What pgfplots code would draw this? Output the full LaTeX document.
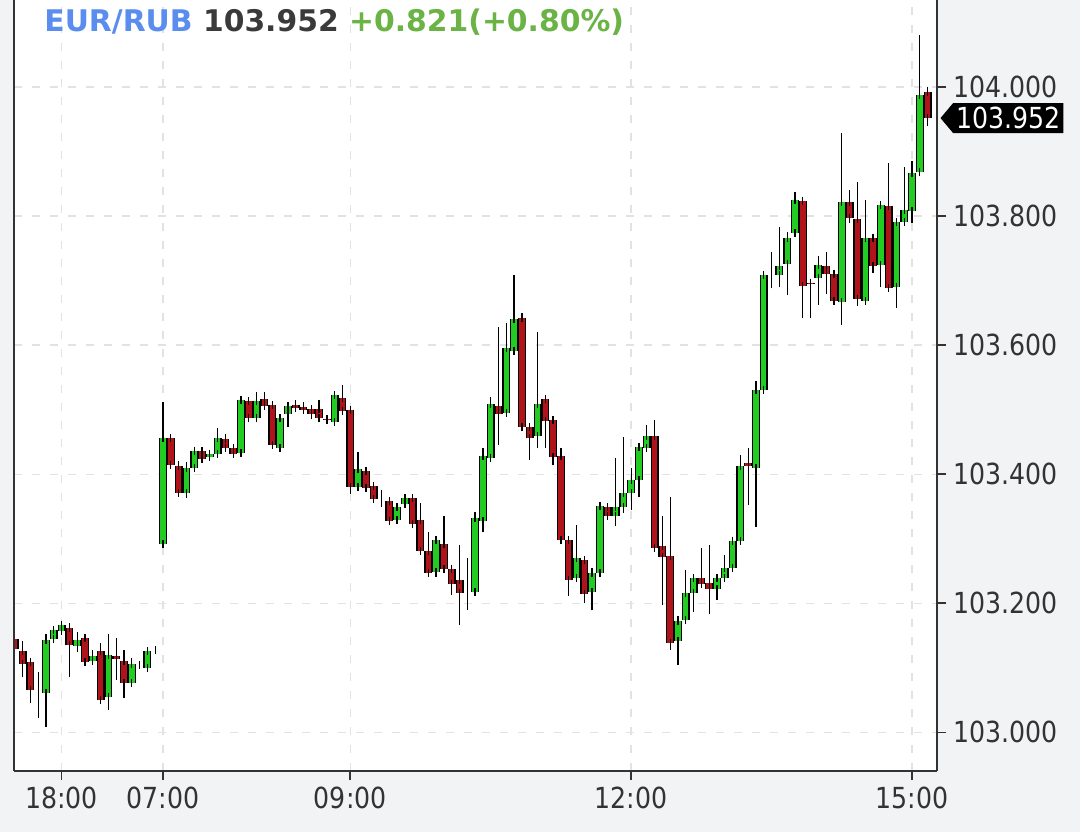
\documentclass[border=0pt]{standalone}
\usepackage{fontspec}
\setmainfont{DejaVu Sans}
\newfontfamily\tickfont[FakeStretch=0.87]{DejaVu Sans}
\usepackage{pgfplots}
\usepackage{pgfplotstable}
\pgfplotsset{compat=1.18}
\usetikzlibrary{shapes.symbols, backgrounds}

\definecolor{bg}{HTML}{F2F3F5}
\definecolor{upc}{HTML}{22CC22}
\definecolor{dnc}{HTML}{B0141A}
\definecolor{ttlblue}{HTML}{5B8DEF}
\definecolor{ttlgray}{HTML}{3A3A3A}
\definecolor{ttlgreen}{HTML}{6AB344}
\definecolor{gridc}{HTML}{E2E2E2}
\definecolor{axc}{HTML}{333333}

% 5-minute candles, x = candle index (07:00 = 0)
\pgfplotstableread{
x o h l c
-19 103.146 103.152 103.125 103.130
-18 103.127 103.141 103.085 103.107
-17 103.109 103.115 103.045 103.065
-16 103.065 103.093 103.022 103.065
-15 103.062 103.153 103.008 103.144
-14 103.144 103.160 103.140 103.158
-13 103.158 103.170 103.155 103.167
-12 103.161 103.169 103.085 103.135
-11 103.135 103.155 103.125 103.144
-10 103.146 103.146 103.109 103.109
-9 103.112 103.127 103.105 103.119
-8 103.127 103.138 103.045 103.050
-7 103.055 103.153 103.034 103.120
-6 103.120 103.146 103.081 103.114
-5 103.112 103.127 103.053 103.078
-4 103.078 103.115 103.073 103.107
-3 103.104 103.106 103.102 103.104
-2 103.101 103.127 103.101 103.127
-1 103.127 103.127 103.127 103.127
0 103.293 103.512 103.290 103.457
1 103.456 103.458 103.410 103.414
2 103.414 103.420 103.366 103.372
3 103.372 103.419 103.363 103.410
4 103.410 103.440 103.405 103.437
5 103.437 103.442 103.420 103.425
6 103.428 103.435 103.425 103.432
7 103.432 103.471 103.430 103.456
8 103.456 103.462 103.438 103.442
9 103.442 103.445 103.426 103.432
10 103.434 103.522 103.432 103.516
11 103.515 103.518 103.486 103.488
12 103.488 103.527 103.486 103.515
13 103.518 103.527 103.505 103.507
14 103.507 103.510 103.440 103.445
15 103.442 103.490 103.440 103.488
16 103.495 103.512 103.473 103.507
17 103.508 103.515 103.497 103.502
18 103.505 103.512 103.495 103.500
19 103.502 103.507 103.485 103.494
20 103.502 103.515 103.485 103.488
21 103.486 103.488 103.483 103.485
22 103.481 103.528 103.478 103.523
23 103.518 103.538 103.497 103.499
24 103.499 103.502 103.370 103.380
25 103.380 103.434 103.378 103.409
26 103.406 103.410 103.375 103.380
27 103.383 103.386 103.360 103.363
28 103.357 103.375 103.349 103.357
29 103.360 103.362 103.327 103.329
30 103.329 103.352 103.327 103.349
31 103.355 103.366 103.353 103.364
32 103.363 103.366 103.322 103.324
33 103.329 103.355 103.280 103.282
34 103.282 103.310 103.246 103.248
35 103.248 103.305 103.240 103.298
36 103.293 103.336 103.250 103.254
37 103.254 103.256 103.213 103.231
38 103.236 103.290 103.166 103.217
39 103.217 103.270 103.190 103.217
40 103.217 103.341 103.215 103.332
41 103.329 103.440 103.310 103.429
42 103.426 103.520 103.420 103.510
43 103.507 103.628 103.445 103.494
44 103.495 103.634 103.490 103.595
45 103.592 103.709 103.590 103.642
46 103.642 103.650 103.470 103.473
47 103.473 103.476 103.422 103.456
48 103.460 103.620 103.440 103.510
49 103.518 103.520 103.440 103.484
50 103.484 103.488 103.414 103.426
51 103.429 103.440 103.296 103.298
52 103.298 103.300 103.212 103.236
53 103.240 103.321 103.236 103.271
54 103.267 103.270 103.200 103.215
55 103.218 103.255 103.189 103.248
56 103.248 103.355 103.245 103.352
57 103.349 103.352 103.335 103.336
58 103.336 103.425 103.320 103.349
59 103.349 103.457 103.340 103.371
60 103.372 103.410 103.345 103.391
61 103.391 103.445 103.365 103.442
62 103.442 103.476 103.440 103.460
63 103.460 103.484 103.285 103.287
64 103.290 103.336 103.197 103.274
65 103.274 103.364 103.127 103.138
66 103.143 103.180 103.104 103.174
67 103.174 103.251 103.170 103.217
68 103.217 103.245 103.186 103.240
69 103.240 103.285 103.228 103.231
70 103.232 103.290 103.184 103.223
71 103.223 103.243 103.205 103.240
72 103.240 103.275 103.238 103.256
73 103.256 103.300 103.254 103.298
74 103.298 103.430 103.296 103.414
75 103.418 103.440 103.352 103.414
76 103.410 103.545 103.318 103.530
77 103.530 103.712 103.528 103.709
78 103.707 103.744 103.688 103.707
79 103.710 103.783 103.690 103.723
80 103.727 103.775 103.678 103.767
81 103.774 103.837 103.770 103.825
82 103.825 103.828 103.642 103.693
83 103.697 103.700 103.642 103.695
84 103.704 103.738 103.663 103.724
85 103.724 103.744 103.680 103.712
86 103.712 103.715 103.665 103.670
87 103.667 103.929 103.631 103.822
88 103.822 103.840 103.790 103.797
89 103.797 103.853 103.660 103.673
90 103.670 103.825 103.668 103.767
91 103.767 103.770 103.712 103.724
92 103.724 103.820 103.690 103.817
93 103.817 103.882 103.690 103.690
94 103.690 103.796 103.657 103.791
95 103.791 103.876 103.785 103.809
96 103.809 103.885 103.790 103.868
97 103.868 104.081 103.865 103.988
98 103.992 104.000 103.940 103.952
}\candles

\begin{document}
\begin{tikzpicture}
\begin{axis}[
  at={(0,0)}, anchor=south west,
  scale only axis, width=461.5pt, height=385.5pt,
  xmin=-19.1, xmax=99.2, ymin=102.94, ymax=104.135,
  axis background/.style={fill=white},
  axis x line*=bottom, axis y line*=right,
  axis line style={axc, line width=1pt},
  tick align=outside, major tick length=4.5pt,
  tick style={axc, line width=0.8pt},
  xtick={-13,0,24,60,96},
  xticklabels={18:00,07:00,09:00,12:00,15:00},
  ytick={103,103.2,103.4,103.6,103.8,104},
  ticklabel style={font=\tickfont\fontsize{14.5}{15}\selectfont, text=axc},
  yticklabel style={/pgf/number format/.cd, fixed, fixed zerofill, precision=3, assume math mode=true},
  grid=major,
  major grid style={gridc, dash pattern=on 4pt off 5pt, line width=0.7pt},
]
% wicks
\addplot[draw=none, mark=none, forget plot,
  error bars/.cd, y dir=plus, y explicit, error mark=none,
  error bar style={draw=black, solid, line width=0.65pt}]
  table[x=x, y=l, y error expr={\thisrow{h}-\thisrow{l}}] {\candles};
% body outline
\addplot[draw=none, mark=none, forget plot,
  error bars/.cd, y dir=both, y explicit, error mark=none,
  error bar style={draw=black, solid, line width=4pt}]
  table[x=x, y expr={(\thisrow{o}+\thisrow{c})/2}, y error expr={abs(\thisrow{c}-\thisrow{o})/2}] {\candles};
% up bodies
\addplot[draw=none, mark=none, forget plot,
  restrict expr to domain={\thisrow{c}-\thisrow{o}}{0:1},
  error bars/.cd, y dir=both, y explicit, error mark=-,
  error bar style={draw=upc, solid, line width=2.7pt},
  error mark options={draw=black, solid, line width=0.65pt, mark size=2pt}]
  table[x=x, y expr={(\thisrow{o}+\thisrow{c})/2}, y error expr={abs(\thisrow{c}-\thisrow{o})/2}] {\candles};
% down bodies
\addplot[draw=none, mark=none, forget plot,
  restrict expr to domain={\thisrow{c}-\thisrow{o}}{-1:-0.0005},
  error bars/.cd, y dir=both, y explicit, error mark=-,
  error bar style={draw=dnc, solid, line width=2.7pt},
  error mark options={draw=black, solid, line width=0.65pt, mark size=2pt}]
  table[x=x, y expr={(\thisrow{o}+\thisrow{c})/2}, y error expr={abs(\thisrow{c}-\thisrow{o})/2}] {\candles};
\coordinate (last) at (axis cs:99.2,103.952);
\end{axis}
\coordinate (sw) at (current axis.south west);
\coordinate (pg) at ([shift={(-7pt,-30.5pt)}]sw);
\draw[axc, line width=1pt] (current axis.south west) -- (current axis.north west);
\begin{scope}[on background layer]
\fill[bg] (pg) rectangle ++(540pt,416pt);
\end{scope}
\node[anchor=base west, inner sep=0pt, font=\bfseries\fontsize{14.9}{15}\selectfont]
  at ([shift={(22pt,400pt)}]pg) {\textcolor{ttlblue}{EUR/RUB} \textcolor{ttlgray}{103.952} \textcolor{ttlgreen}{+0.821(+0.80\%)}};
\node[signal, signal to=west, signal pointer angle=100, fill=black, text=white,
  anchor=west, inner xsep=1.5pt, inner ysep=1pt, minimum height=15pt,
  font=\tickfont\fontsize{14.5}{15}\selectfont] at ([xshift=1.5pt]last) {103.952};
\pgfresetboundingbox
\useasboundingbox (pg) rectangle ++(540pt,416pt);
\end{tikzpicture}
\end{document}
